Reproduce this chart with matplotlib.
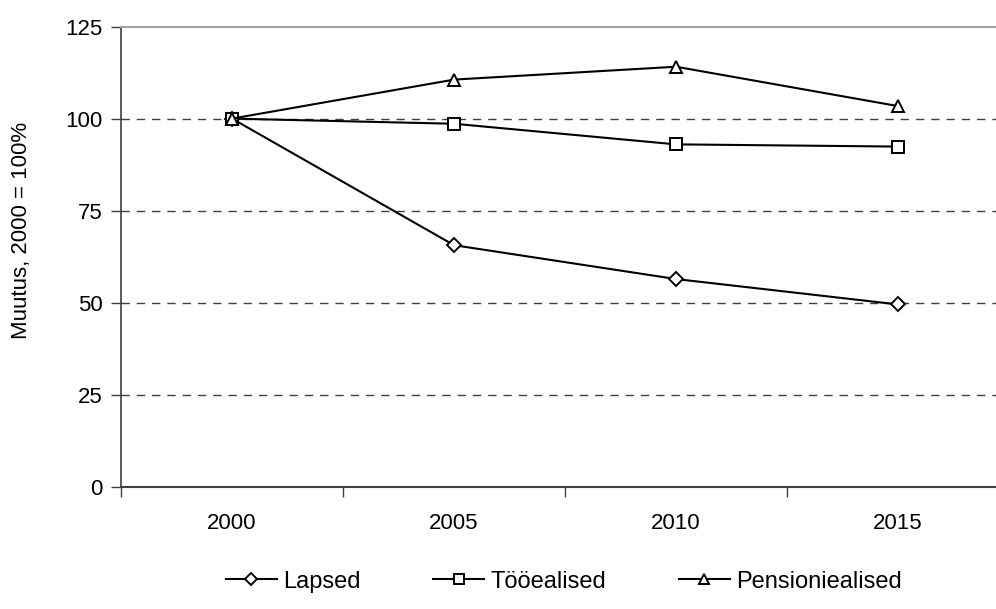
import matplotlib.pyplot as plt
from matplotlib.ticker import FixedLocator

plt.rcParams['font.family'] = ['Liberation Sans', 'DejaVu Sans']

years = ["2000", "2005", "2010", "2015"]
lapsed = [100, 65.6, 56.4, 49.5]
tooealised = [100, 98.6, 93.0, 92.4]
pensioniealised = [100, 110.6, 114.1, 103.4]
y_ticks = [0, 25, 50, 75, 100, 125]

fig = plt.figure(figsize=(9.96, 6.09), dpi=100)
ax = fig.add_axes([0.1215, 0.201, 0.8916, 0.7553])

x = range(len(years))
style = dict(color="black", linewidth=1.5, markerfacecolor="white",
             markeredgecolor="black", markeredgewidth=1.4, markersize=9)
ax.plot(x, lapsed, marker="D", label="Lapsed", **{**style, "markersize": 7.5})
ax.plot(x, tooealised, marker="s", label="Tööealised", **style)
ax.plot(x, pensioniealised, marker="^", label="Pensioniealised", **style)

ax.set_xlim(-0.5, len(years) - 0.5)
ax.set_ylim(0, 125)
ax.set_yticks(y_ticks)
ax.set_xticks(list(x))
ax.set_xticklabels(years)
ax.xaxis.set_minor_locator(FixedLocator([i - 0.5 for i in range(len(years) + 1)]))
ax.tick_params(axis="x", which="major", length=0, pad=19, labelsize=16)
ax.tick_params(axis="x", which="minor", length=7, width=1, color="#404040")
ax.tick_params(axis="y", length=7, width=1, color="#404040", pad=6, labelsize=16)

for v in y_ticks[1:-1]:
    ax.axhline(v, color="#404040", linestyle=(0, (6, 5)), linewidth=1, zorder=0)

ax.spines["top"].set_color("#a0a0a0")
ax.spines["top"].set_linewidth(1.5)
ax.spines["right"].set_visible(False)
ax.spines["left"].set_color("#404040")
ax.spines["bottom"].set_color("#404040")
ax.spines["left"].set_linewidth(1.2)
ax.spines["bottom"].set_linewidth(1.5)

ax.set_ylabel("Muutus, 2000 = 100%", fontsize=16)
ax.yaxis.set_label_coords(-0.100, 0.557)

fig.legend(loc="center", bbox_to_anchor=(0.566, 0.045), ncol=3, frameon=False,
           fontsize=17, handlelength=2.15, columnspacing=3.1, handletextpad=0.25,
           markerscale=0.8)

fig.savefig("out.png", dpi=100)
